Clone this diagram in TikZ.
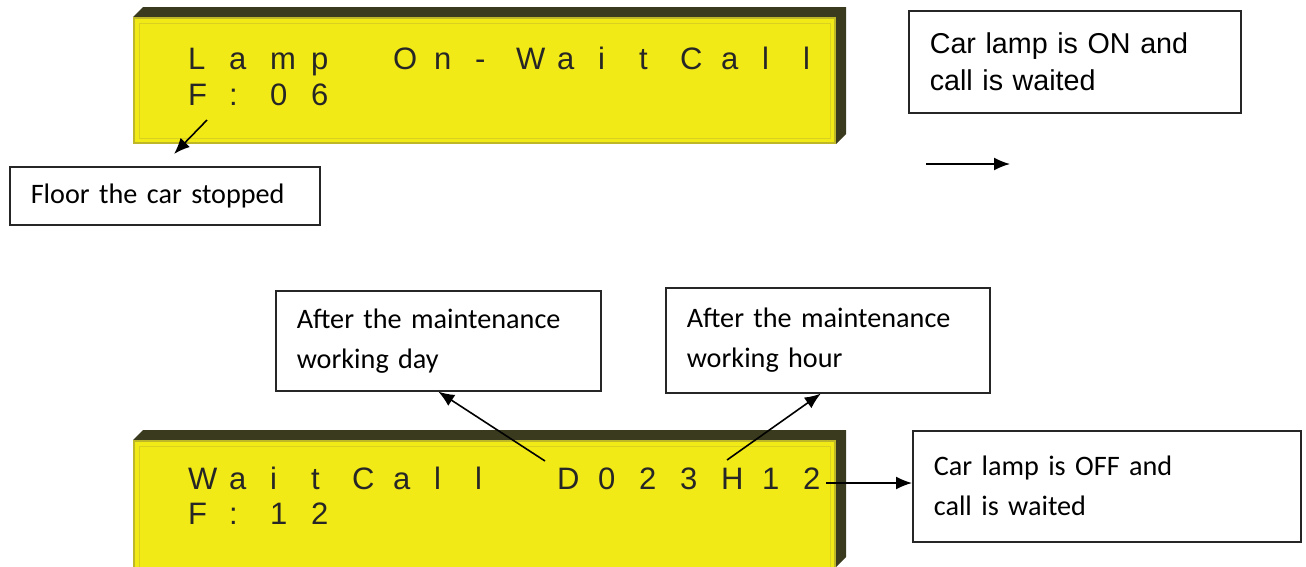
\documentclass[tikz,border=0pt]{standalone}
\usepackage{fontspec}
\setmainfont{Carlito}
\newfontfamily\arialfont{Liberation Sans}
\newfontfamily\lcdfont{Liberation Sans}
\usetikzlibrary{arrows.meta,positioning,calc}
\definecolor{lcdyellow}{RGB}{242,234,22}
\definecolor{lcdframe}{RGB}{58,58,30}
\definecolor{lcdedge}{RGB}{190,184,40}

\begin{document}
\begin{tikzpicture}[
    x=1pt, y=-1pt,
    >={Latex[length=16pt,width=13pt]},
    box/.style={draw=black!85, line width=1.6pt, anchor=north west, align=left, inner xsep=20pt, font=\fontsize{28.2}{40}\selectfont},
    lcdchar/.style={anchor=base west, inner sep=0pt, text=black!85, font=\lcdfont\fontsize{31}{31}\selectfont},
    arrow/.style={->, line width=1.6pt}
]
    \useasboundingbox (0,0) rectangle (1306,566);

    % Upper display
    \fill[lcdframe] (133,17) -- (143,7) -- (846,7) -- (846,134) -- (836,144) -- (836,17) -- cycle;
    \draw[lcdedge, fill=lcdyellow, line width=2pt] (134,18) rectangle (835,143);
    \draw[lcdedge!50!lcdyellow, line width=1pt] (139,23) rectangle (830,138);
    \foreach \c [count=\i from 0] in {L,a,m,p,{},O,n,-,W,a,i,t,C,a,l,l}
        \node[lcdchar] (top-\i) at ({188+41*\i},69) {\c};
    \foreach \c [count=\i from 0] in {F,:,0,6}
        \node[lcdchar] (topf-\i) at ({188+41*\i},105) {\c};

    % Lower display
    \fill[lcdframe] (133,440) -- (143,430) -- (846,430) -- (846,557) -- (836,567) -- (836,440) -- cycle;
    \draw[lcdedge, fill=lcdyellow, line width=2pt] (134,441) rectangle (835,570);
    \draw[lcdedge!50!lcdyellow, line width=1pt] (139,446) rectangle (830,570);
    \foreach \c [count=\i from 0] in {W,a,i,t,C,a,l,l,{},D,0,2,3,H,1,2}
        \node[lcdchar] (bot-\i) at ({188+41*\i},489) {\c};
    \foreach \c [count=\i from 0] in {F,:,1,2}
        \node[lcdchar] (botf-\i) at ({188+41*\i},524) {\c};

    % Notes
    \node[box, font=\arialfont\fontsize{28.7}{37}\selectfont, minimum width=332pt, minimum height=102pt, text width=290pt] (onbox) at (908,10) {Car lamp is ON and\\call is waited};
    \node[box, minimum width=310pt, minimum height=58pt, text width=268pt] (floorbox) at (9,166) {Floor the car stopped};
    \node[box, minimum width=325pt, minimum height=100pt, text width=283pt] (daybox) at (275,290) {After the maintenance\\working day};
    \node[box, minimum width=324pt, minimum height=105pt, text width=282pt] (hourbox) at (665,287) {After the maintenance\\working hour};
    \node[box, minimum width=388pt, minimum height=111pt, text width=346pt] (offbox) at (912,430) {Car lamp is OFF and\\call is waited};

    % Arrows
    \coordinate (floorptr) at (207,120);
    \coordinate (floortip) at (174,154);
    \coordinate (dpos) at (545,461);
    \coordinate (hpos) at (727,460);
    \coordinate (twoend) at (826,483);
    \coordinate (sa) at (926,164);
    \coordinate (sb) at (1010,164);
    \draw[arrow] (floorptr) -- (floortip);
    \draw[arrow] (sa) -- (sb);
    \draw[arrow] (dpos) -- (daybox.south);
    \draw[arrow] (hpos) -- ([xshift=-7pt]hourbox.south);
    \draw[arrow] (twoend) -- (twoend -| offbox.west);

\end{tikzpicture}
\end{document}
